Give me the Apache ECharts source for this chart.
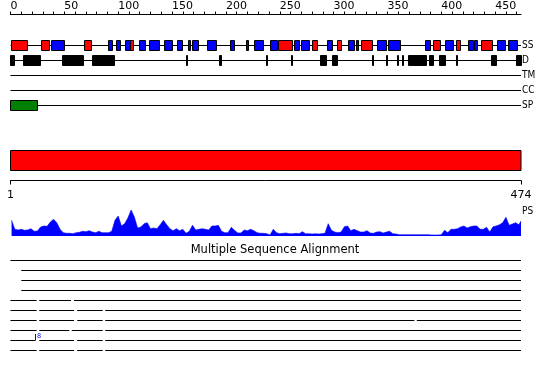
<!DOCTYPE html>
<html><head><meta charset="utf-8">
<script src="https://cdn.jsdelivr.net/npm/echarts@6/dist/echarts.min.js"></script>
<style>html,body{margin:0;padding:0;background:#fff}#c{width:550px;height:380px}</style>
</head><body><div id="c"></div>
<script>
const SEQ_LEN = 474;
const trackNames = ['SS', 'D', 'TM', 'CC', 'SP'];
const rulerTicks = [0,10,20,30,40,50,60,70,80,90,100,110,120,130,140,150,160,170,180,190,200,210,220,230,240,250,260,270,280,290,300,310,320,330,340,350,360,370,380,390,400,410,420,430,440,450,460,470];
const rulerLabels = [0,50,100,150,200,250,300,350,400,450];
const lengthLabels = [1, 474];

// secondary structure: helix (red) / strand (blue)
const helix = [[1,16],[29,36],[69,75],[111,114],[249,262],[280,285],[304,307],[326,336],[393,399],[414,418],[437,448]];
const strand = [[38,50],[91,95],[98,102],[107,111],[120,125],[129,138],[143,150],[155,160],[165,167],[169,175],[183,191],[204,208],[219,221],[227,235],[241,248],[264,268],[270,278],[294,299],[314,319],[321,323],[341,349],[351,362],[385,390],[404,411],[425,430],[431,434],[452,460],[462,471]];
// disorder
const disorder = [[0,4],[12,28],[48,68],[76,97],[163,164],[194,196],[238,239],[261,262],[288,293],[299,304],[336,337],[349,350],[359,360],[364,365],[370,386],[389,393],[398,404],[414,415],[447,451],[470,474]];
const transmembrane = [];
const coiledCoil = [];
const signalPeptide = [[0,25]];
const domainRange = [[1,474]];

// PS profile
const psPos = [1,4,7,10,13,16,19,22,25,28,
31,34,37,40,43,46,49,52,55,58,
61,64,67,70,73,76,79,82,85,88,
91,94,97,100,103,106,109,112,115,118,
121,124,127,130,133,136,139,142,145,148,
151,154,157,160,163,166,169,172,175,178,
181,184,187,190,193,196,199,202,205,208,
211,214,217,220,223,226,229,232,235,238,
241,244,247,250,253,256,259,262,265,268,
271,274,277,280,283,286,289,292,295,298,
301,304,307,310,313,316,319,322,325,328,
331,334,337,340,343,346,349,352,355,358,
361,364,367,370,373,376,379,382,385,388,
391,394,397,400,403,406,409,412,415,418,
421,424,427,430,433,436,439,442,445,448,
451,454,457,460,463,466,469,472,474];
const psVal = [15.7,6.7,6,6.7,5.7,6,7.3,4.7,5,9,
10,9.7,14,16.7,13.3,6.7,3.3,2.7,2.7,2.3,
3.3,3.7,4.7,4.3,5.3,4,3.3,4.7,3.3,3.3,
3.3,4.7,15.7,20,10,12.3,18,26,19,8,
9,12.3,13.3,7.3,8,7.3,11.3,15.7,11.3,7.3,
5.3,7.3,5.3,6.7,2.7,4.7,10.7,6,6.7,7.3,
6.7,6,10,10,10.7,4.7,3.3,3.3,8.7,5.7,
3,3,6,5.3,6.7,5.3,3.3,2.7,2.7,2.3,
1,6.7,3.3,2.3,2.7,3,2.3,2.3,2.7,2.3,
4.3,2.3,2.3,2,2.3,2,2.3,2.7,12.3,5.7,
4,3.3,4,9.3,10,5.3,6.7,5.3,4,4,
5.3,3,2.7,4,4.3,3,4,4.7,2.3,2,
1.3,1.3,1.3,1.3,1.3,1.3,1.3,1.3,1.3,1.3,
1,1,1,1.3,5.7,3.3,6.7,6.7,7.3,9,
10,8,9.3,10,10,6.7,6.7,8.7,4,9.3,
10,11.3,13.3,18.7,10.7,12,13.3,11.3,15];

// multiple sequence alignment rows (aligned segments)
const msaTitle = 'Multiple Sequence Alignment';
const msaRows = [
  [[0,474]],
  [[10,474]],
  [[10,474]],
  [[10,474]],
  [[0,24.3],[26.7,56.2],[59,474]],
  [[0,24.3],[26.7,59],[62,85.6],[88,474]],
  [[0,24.3],[26.7,59],[62,85.6],[88,375],[377.3,474]],
  [[0,24.3],[26.7,54.6],[56.8,85.6],[88,474]],
  [[0,23],[26.7,59],[62,85.6],[88,474]],
  [[0,24.3],[26.7,59],[62,85.6],[88,474]]
];
const msaInserts = [[8, 23.2, 8]]; // row, position, insert length

const FONT = 'DejaVu Sans';
const LABEL_FONT = "'DejaVu Sans Condensed', 'DejaVu Sans'";
const chart = echarts.init(document.getElementById('c'), null, {renderer: 'canvas'});

function boxRender(color) {
  return function (params, api) {
    const a = api.coord([api.value(0), api.value(2)]);
    const b = api.coord([api.value(1), api.value(2)]);
    const h = api.size([0, 1])[1] * 2 / 3;
    const x1 = Math.floor(a[0]) + 0.5;
    let x2 = Math.floor(b[0]) + 0.5;
    if (x2 - x1 < 1) x2 = x1 + 1;
    return {type: 'rect', shape: {x: x1, y: a[1] - h / 2, width: x2 - x1, height: h},
      style: {fill: color, stroke: '#000', lineWidth: 1}};
  };
}
function lineRender(params, api) {
  const a = api.coord([api.value(0), api.value(2)]);
  const b = api.coord([api.value(1), api.value(2)]);
  return {type: 'line', shape: {x1: a[0], y1: a[1], x2: b[0], y2: b[1]},
    style: {stroke: '#000', lineWidth: 1}};
}
function feat(list, track) { return list.map(s => [s[0], s[1], track]); }

const gridBase = {left: 10.5, right: 29, outerBoundsMode: 'none', containLabel: false};

const option = {
  animation: false,
  title: {text: msaTitle, left: 'center', top: 244, padding: 0,
    textStyle: {fontSize: 11.5, fontWeight: 'normal', fontFamily: FONT, color: '#000'}},
  grid: [
    Object.assign({top: 38, height: 75}, gridBase),
    Object.assign({top: 150.5, height: 20}, gridBase),
    Object.assign({top: 209, height: 27}, gridBase),
    Object.assign({top: 255.5, height: 100}, gridBase)
  ],
  xAxis: [
    {gridIndex: 0, type: 'value', min: 0, max: SEQ_LEN, position: 'top', offset: 23.5,
      axisLine: {show: true, onZero: false, lineStyle: {color: '#000', width: 1}},
      axisTick: {show: true, customValues: rulerTicks, length: 3, lineStyle: {color: '#000'}},
      axisLabel: {customValues: rulerLabels, margin: 3, align: 'left', fontSize: 11, fontFamily: FONT, color: '#000'},
      splitLine: {show: false}},
    {gridIndex: 1, type: 'value', min: 1, max: SEQ_LEN, position: 'bottom', offset: 10,
      axisLine: {show: true, onZero: false, lineStyle: {color: '#000', width: 1}},
      axisTick: {show: true, customValues: lengthLabels, length: 4, lineStyle: {color: '#000'}},
      axisLabel: {customValues: lengthLabels, margin: 9, fontSize: 11, fontFamily: FONT, color: '#000'},
      splitLine: {show: false}},
    {gridIndex: 2, type: 'value', min: 0, max: SEQ_LEN, show: false, axisLine: {onZero: false}},
    {gridIndex: 3, type: 'value', min: 0, max: SEQ_LEN, show: false, axisLine: {onZero: false}}
  ],
  yAxis: [
    {gridIndex: 0, type: 'category', data: trackNames, inverse: true, position: 'right',
      axisLine: {show: false, onZero: false}, axisTick: {show: false}, splitLine: {show: false},
      axisLabel: {margin: 1, fontSize: 10, fontFamily: LABEL_FONT, color: '#000'}},
    {gridIndex: 1, type: 'value', min: 0, max: 1, show: false, axisLine: {onZero: false}},
    {gridIndex: 2, type: 'value', min: 0, max: 27, position: 'right', name: 'PS', nameLocation: 'end', nameGap: -2,
      nameTextStyle: {align: 'left', verticalAlign: 'middle', padding: [0, 0, 0, 1], fontSize: 10, fontFamily: LABEL_FONT, color: '#000'},
      axisLine: {show: false, onZero: false}, axisTick: {show: false}, axisLabel: {show: false}, splitLine: {show: false}},
    {gridIndex: 3, type: 'category', data: msaRows.map((r, i) => 'row' + (i + 1)), inverse: true, show: false, axisLine: {onZero: false}}
  ],
  series: [
    {type: 'custom', xAxisIndex: 0, yAxisIndex: 0, silent: true, z: 1,
      data: trackNames.map((n, i) => [0, SEQ_LEN, i]), renderItem: lineRender},
    {type: 'custom', xAxisIndex: 0, yAxisIndex: 0, silent: true, z: 2,
      data: feat(helix, 0), renderItem: boxRender('#FF0000')},
    {type: 'custom', xAxisIndex: 0, yAxisIndex: 0, silent: true, z: 2,
      data: feat(strand, 0), renderItem: boxRender('#0000FF')},
    {type: 'custom', xAxisIndex: 0, yAxisIndex: 0, silent: true, z: 2,
      data: feat(disorder, 1), renderItem: boxRender('#000000')},
    {type: 'custom', xAxisIndex: 0, yAxisIndex: 0, silent: true, z: 2,
      data: feat(transmembrane, 2), renderItem: boxRender('#FFFF00')},
    {type: 'custom', xAxisIndex: 0, yAxisIndex: 0, silent: true, z: 2,
      data: feat(coiledCoil, 3), renderItem: boxRender('#00FFFF')},
    {type: 'custom', xAxisIndex: 0, yAxisIndex: 0, silent: true, z: 2,
      data: feat(signalPeptide, 4), renderItem: boxRender('#008000')},
    {type: 'custom', xAxisIndex: 1, yAxisIndex: 1, silent: true,
      data: domainRange.map(r => [r[0], r[1]]),
      renderItem: function (params, api) {
        const a = api.coord([api.value(0), 1]);
        const b = api.coord([api.value(1), 0]);
        return {type: 'rect', shape: {x: a[0], y: a[1], width: b[0] - a[0], height: b[1] - a[1]},
          style: {fill: '#FF0000', stroke: '#000', lineWidth: 1}};
      }},
    {type: 'line', xAxisIndex: 2, yAxisIndex: 2, silent: true, symbol: 'none',
      data: psPos.map((p, i) => [p, psVal[i]]),
      lineStyle: {color: '#0000FF', width: 0.6}, areaStyle: {color: '#0000FF', opacity: 1}},
    {type: 'custom', xAxisIndex: 3, yAxisIndex: 3, silent: true,
      data: msaRows.flatMap((segs, r) => segs.map(s => [s[0], s[1], r])), renderItem: lineRender},
    {type: 'custom', xAxisIndex: 3, yAxisIndex: 3, silent: true, z: 3,
      data: msaInserts.map(d => [d[1], d[0], d[2]]),
      renderItem: function (params, api) {
        const p = api.coord([api.value(0), api.value(1)]);
        const x = Math.round(p[0]) + 0.5;
        return {type: 'group', children: [
          {type: 'line', shape: {x1: x, y1: p[1] - 6.5, x2: x, y2: p[1]}, style: {stroke: '#0000FF', lineWidth: 1}},
          {type: 'text', style: {x: x + 1.5, y: p[1] - 4.5, text: String(api.value(2)), fill: '#0000FF',
            fontSize: 6.5, fontFamily: FONT, verticalAlign: 'middle', align: 'left'}}
        ]};
      }}
  ]
};
chart.setOption(option);
</script>
</body></html>
